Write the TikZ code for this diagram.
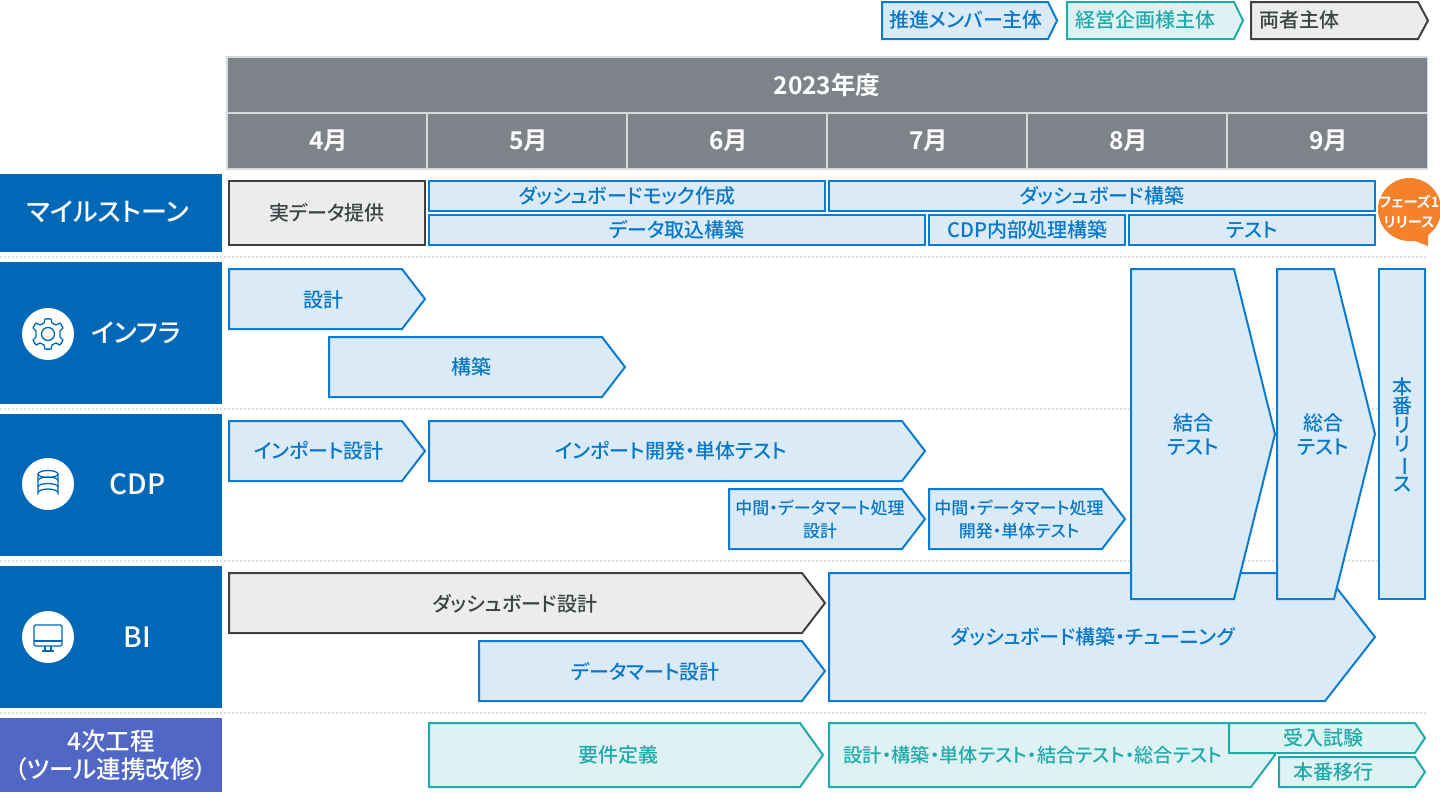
\documentclass[tikz,border=0pt]{standalone}
\usepackage{fontspec}
\usepackage{graphicx}
\setmainfont[RawFeature=+palt]{Noto Sans CJK JP Medium}
\newfontfamily\jpbold[RawFeature=+palt]{Noto Sans CJK JP Bold}
\definecolor{bstroke}{HTML}{0A7DD0}
\definecolor{bfill}{HTML}{DAEBF7}
\definecolor{btext}{HTML}{0A78C8}
\definecolor{tstroke}{HTML}{20ABAB}
\definecolor{tfill}{HTML}{DFF2F3}
\definecolor{gstroke}{HTML}{3E4244}
\definecolor{gfill}{HTML}{EBEDED}
\definecolor{head}{HTML}{7D8389}
\definecolor{headb}{HTML}{D5DADC}
\definecolor{cat}{HTML}{0068B7}
\definecolor{cat2}{HTML}{5167C6}
\definecolor{orng}{HTML}{F5812A}
\definecolor{dots}{HTML}{DDDDDD}
\tikzset{
  bluebox/.style={draw=bstroke,fill=bfill,line width=2pt,line join=miter},
  tealbox/.style={draw=tstroke,fill=tfill,line width=2pt,line join=miter},
  graybox/.style={draw=gstroke,fill=gfill,line width=2pt,line join=miter},
  lbl/.style={inner sep=0pt,align=center,font=\fontsize{20}{23}\selectfont},
  bluetxt/.style={lbl,text=btext},
  tealtxt/.style={lbl,text=tstroke},
  graytxt/.style={lbl,text=gstroke},
  whitetxt/.style={inner sep=0pt,align=center,text=white,font=\fontsize{26}{28}\selectfont},
  headtxt/.style={inner sep=0pt,text=white,font=\jpbold\fontsize{24.5}{26}\selectfont},
  iconline/.style={draw=cat,line width=1.3pt,fill=none},
  sepline/.style={draw=dots,line width=2pt,dash pattern=on 2pt off 2pt},
}
\newcommand{\penta}[6]{%
  \pgfmathsetmacro{\pmid}{(#3+#5)/2}%
  \draw[#1] (#2,#3) -- (#6,#3) -- (#4,\pmid) -- (#6,#5) -- (#2,#5) -- cycle;}
\begin{document}
\begin{tikzpicture}[x=1pt,y=-1pt]
\useasboundingbox (0,0) rectangle (1440,804);
% legend
\penta{bluebox}{882}{2}{1057}{39}{1048}
\node[bluetxt] (legA) at (966,20) {推進メンバー主体};
\penta{tealbox}{1067}{2}{1243}{39}{1234}
\node[tealtxt] (legB) at (1145,20) {経営企画様主体};
\penta{graybox}{1251}{2}{1428}{39}{1418}
\node[graytxt] (legC) at (1299.5,20) {両者主体};
% header
\fill[headb] (226,56) rectangle (1428,170);
\fill[head] (228,58) rectangle (1427,112);
\node[headtxt] (year) at (827,85) {2023年度};
\foreach \xa/\xb/\t/\n in {228/426/4月/m4,428/626/5月/m5,628/826/6月/m6,828/1026/7月/m7,1028/1226/8月/m8,1228/1427/9月/m9}{
  \fill[head] (\xa,114) rectangle (\xb,168);
  \node[headtxt] (\n) at ({(\xa+\xb)/2+1.5},141) {\t};
}
% separators
\foreach \y in {257,409,561,713}{\draw[sepline] (0,\y) -- (1426,\y);}
% categories
\fill[cat] (0,174) rectangle (222,252);
\fill[cat] (0,262) rectangle (222,404);
\fill[cat] (0,414) rectangle (222,556);
\fill[cat] (0,566) rectangle (222,708);
\fill[cat2] (0,718) rectangle (222,792);
\node[whitetxt] (cMile) at (108,212) {マイルストーン};
\node[whitetxt] (cInfra) at (136,333) {インフラ};
\node[whitetxt,font=\fontsize{28}{30}\selectfont] (cCdp) at (137.5,484) {CDP};
\node[whitetxt,font=\fontsize{28}{30}\selectfont] (cBi) at (137,637) {BI};
\node[inner sep=0pt,align=center,text=white,font=\fontsize{24.5}{28}\selectfont] (cFour) at (111,755) {4次工程\\（ツール連携改修）};
% icons
\foreach \y in {334,484,637}{\fill[white] (48,\y) circle (26);}
% gear
\begin{scope}[shift={(48,334)}]
  \draw[iconline,line join=round] plot[smooth cycle,tension=0.15] coordinates {
    (-3,-15)(3,-15)(4,-11)(8,-9)(12,-11)(15,-6)(12,-3)(12,3)(15,6)(12,11)(8,9)(4,11)(3,15)(-3,15)(-4,11)(-8,9)(-12,11)(-15,6)(-12,3)(-12,-3)(-15,-6)(-12,-11)(-8,-9)(-4,-11)};
  \draw[iconline] (0,0) circle (6.5);
\end{scope}
% database
\begin{scope}[shift={(48,484)}]
  \draw[iconline] (0,-10) ellipse[x radius=10,y radius=3.5];
  \draw[iconline] (-10,-10) -- (-10,9) arc[start angle=180,end angle=360,x radius=10,y radius=4] -- (10,-10);
  \draw[iconline] (-10,-3.5) arc[start angle=180,end angle=360,x radius=10,y radius=3.5];
  \draw[iconline] (-10,3) arc[start angle=180,end angle=360,x radius=10,y radius=3.5];
\end{scope}
% monitor
\begin{scope}[shift={(48,637)}]
  \draw[iconline,rounded corners=1.5pt] (-14,-12) rectangle (14,9);
  \draw[iconline] (-14,4) -- (14,4);
  \draw[iconline] (-3,9) -- (-3,14) (3,9) -- (3,14) (-6,14) -- (6,14);
\end{scope}
% milestones
\draw[graybox] (229,181) rectangle (425,245);
\node[graytxt] (t1) at (327,213) {実データ提供};
\draw[bluebox] (429,181) rectangle (825,211);
\node[bluetxt] (t2) at (627,196) {ダッシュボードモック作成};
\draw[bluebox] (829,181) rectangle (1375,211);
\node[bluetxt] (t3) at (1102,196) {ダッシュボード構築};
\draw[bluebox] (429,215) rectangle (925,245);
\node[bluetxt] (t4) at (677,230) {データ取込構築};
\draw[bluebox] (929,215) rectangle (1125,245);
\node[bluetxt] (t5) at (1027.5,230) {CDP内部処理構築};
\draw[bluebox] (1129,215) rectangle (1375,245);
\node[bluetxt] (t6) at (1252,230) {テスト};
\fill[orng] (1409.5,209.5) circle[radius=31.5];
\fill[orng] (1398,238) -- (1415,241) -- (1428,246) -- (1428,230) -- cycle;
\node[inner sep=0pt,align=center,text=white,font=\jpbold\fontsize{14.3}{20}\selectfont] (t7) at (1409,212) {フェーズ1\\リリース};
% infra
\penta{bluebox}{229}{269}{425}{329}{402}
\node[bluetxt] (a1) at (323,300) {設計};
\penta{bluebox}{329}{337}{625}{397}{602}
\node[bluetxt] (a2) at (471,367) {構築};
% cdp
\penta{bluebox}{229}{421}{425}{481}{402}
\node[bluetxt] (b1) at (319,451) {インポート設計};
\penta{bluebox}{429}{421}{925}{481}{902}
\node[bluetxt] (b2) at (671,451) {インポート開発・単体テスト};
\penta{bluebox}{729}{489}{925}{549}{902}
\node[bluetxt,font=\fontsize{17}{23}\selectfont] (b3) at (820,519) {中間・データマート処理\\設計};
\penta{bluebox}{929}{489}{1125}{549}{1102}
\node[bluetxt,font=\fontsize{17}{23}\selectfont] (b4) at (1019,519) {中間・データマート処理\\開発・単体テスト};
% bi
\penta{graybox}{229}{573}{825}{633}{802}
\node[graytxt] (c1) at (515,603.5) {ダッシュボード設計};
\penta{bluebox}{479}{641}{825}{701}{802}
\node[bluetxt] (c2) at (645.5,671.5) {データマート設計};
\penta{bluebox}{829}{573}{1375}{701}{1325}
\node[bluetxt] (c3) at (1093,637) {ダッシュボード構築・チューニング};
% tall
\draw[bluebox] (1131,269) -- (1234,269) -- (1275,434) -- (1234,599) -- (1131,599) -- cycle;
\node[bluetxt,font=\fontsize{20}{24}\selectfont] (d1) at (1193,435) {結合\\テスト};
\penta{bluebox}{1277}{269}{1375}{599}{1334}
\node[bluetxt,font=\fontsize{20}{24}\selectfont] (d2) at (1323,435) {総合\\テスト};
\draw[bluebox] (1379,269) rectangle (1425,599);
\node[lbl,text=btext,font=\fontsize{20}{19}\selectfont] (d3) at (1402,435) {本\\番\\リ\\リ\\\rotatebox[origin=c]{-90}{ー}\\ス};
% fourth
\penta{tealbox}{429}{723}{823}{787}{800}
\node[tealtxt] (e1) at (618,755) {要件定義};
\penta{tealbox}{829}{723}{1275}{787}{1251}
\node[tealtxt,font=\fontsize{19.2}{23}\selectfont] (e2) at (1033,755) {設計・構築・単体テスト・結合テスト・総合テスト};
\penta{tealbox}{1229}{723}{1425}{753}{1415}
\node[tealtxt] (e3) at (1323,738) {受入試験};
\penta{tealbox}{1279}{757}{1425}{787}{1415}
\node[tealtxt] (e4) at (1333,772) {本番移行};
\end{tikzpicture}
\end{document}
